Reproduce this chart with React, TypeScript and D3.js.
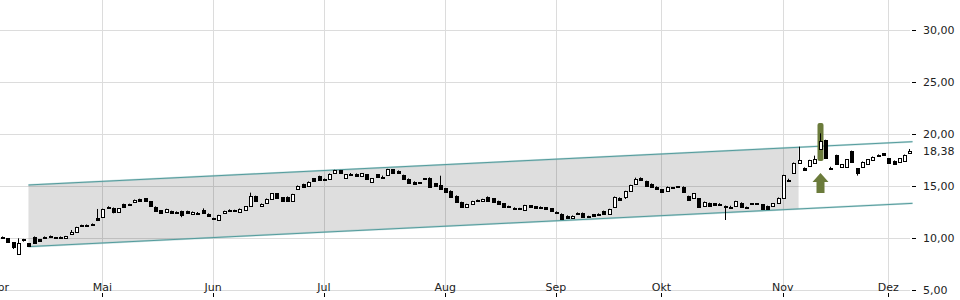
import React from 'react';
import * as d3 from 'd3';

// [open, high, low, close] per trading day
const ohlc: [number, number, number, number][] = [
  [10.05, 10.15, 9.98, 10.08], [9.97, 10.0, 9.55, 9.6], [9.58, 9.6, 8.94, 9.13], [8.43, 9.97, 8.4, 9.49],
  [9.88, 9.92, 9.65, 9.85], [9.49, 9.52, 9.2, 9.23], [10.13, 10.15, 9.47, 9.49], [9.87, 9.9, 9.65, 9.7],
  [10.13, 10.15, 9.97, 9.98], [10.07, 10.24, 10.05, 10.22], [10.07, 10.1, 9.95, 10.05], [10.12, 10.15, 9.98, 10.0],
  [9.98, 10.2, 9.96, 10.18], [10.36, 10.77, 10.34, 10.55], [10.55, 11.08, 10.53, 11.06], [11.26, 11.28, 11.1, 11.24],
  [11.28, 11.3, 11.1, 11.12], [11.38, 11.4, 11.2, 11.22], [11.95, 12.79, 11.63, 11.7], [12.05, 12.82, 12.0, 12.79],
  [13.01, 13.05, 12.85, 12.88], [12.91, 12.93, 12.37, 12.53], [12.47, 12.88, 12.45, 12.85], [13.24, 13.3, 12.93, 12.95],
  [13.28, 13.3, 13.1, 13.26], [13.43, 13.7, 13.41, 13.68], [13.75, 13.78, 13.5, 13.53], [13.81, 13.84, 13.5, 13.53],
  [13.53, 13.56, 13.08, 13.11], [13.01, 13.04, 12.6, 12.63], [12.66, 12.69, 12.35, 12.37], [12.47, 12.82, 12.45, 12.79],
  [12.6, 12.63, 12.35, 12.37], [12.53, 12.56, 12.35, 12.37], [12.6, 12.63, 12.0, 12.21], [12.6, 12.63, 12.38, 12.4],
  [12.31, 12.55, 12.29, 12.53], [12.42, 12.5, 12.35, 12.44], [12.72, 12.85, 12.38, 12.4], [12.34, 12.37, 12.1, 12.12],
  [11.88, 11.95, 11.82, 11.9], [11.7, 12.23, 11.68, 12.21], [12.36, 12.63, 12.34, 12.6], [12.68, 12.76, 12.62, 12.7],
  [12.69, 12.72, 12.53, 12.56], [12.5, 12.84, 12.48, 12.82], [12.69, 13.06, 12.67, 13.04], [13.04, 14.36, 13.02, 14.04],
  [14.04, 14.07, 13.5, 13.53], [13.04, 13.32, 13.02, 13.3], [13.37, 13.8, 13.35, 13.78], [13.78, 14.31, 13.76, 14.29],
  [14.29, 14.32, 13.86, 13.88], [13.91, 13.94, 13.57, 13.59], [13.97, 14.0, 13.57, 13.59], [13.59, 14.25, 13.57, 14.23],
  [14.68, 15.05, 14.66, 15.03], [15.19, 15.22, 14.85, 14.87], [14.97, 15.44, 14.95, 15.42], [15.74, 15.77, 15.49, 15.51],
  [15.96, 15.99, 15.53, 15.55], [15.63, 15.72, 15.55, 15.65], [15.64, 16.2, 15.62, 16.18], [16.22, 16.56, 16.2, 16.54],
  [16.51, 16.54, 16.26, 16.28], [15.8, 16.14, 15.78, 16.12], [16.11, 16.25, 15.98, 16.13], [16.18, 16.21, 15.91, 15.93],
  [15.99, 16.24, 15.97, 16.22], [16.12, 16.15, 15.68, 15.7], [15.42, 15.76, 15.4, 15.74], [16.12, 16.15, 15.81, 15.83],
  [15.89, 16.0, 15.75, 15.91], [16.06, 16.65, 16.04, 16.63], [16.6, 16.63, 16.26, 16.28], [16.47, 16.5, 16.2, 16.22],
  [16.06, 16.09, 15.65, 15.67], [15.7, 15.73, 15.24, 15.26], [15.42, 15.45, 15.17, 15.19], [15.36, 15.38, 15.34, 15.35],
  [15.75, 15.77, 15.6, 15.74], [15.8, 15.83, 14.91, 14.93], [15.26, 15.29, 14.98, 15.0], [15.1, 15.99, 14.69, 14.71],
  [14.78, 14.81, 14.38, 14.4], [14.55, 14.58, 13.95, 13.97], [14.07, 14.1, 13.41, 13.43], [13.46, 13.49, 12.93, 12.95],
  [13.01, 13.29, 12.99, 13.27], [13.27, 13.58, 13.25, 13.56], [13.67, 13.7, 13.52, 13.54], [13.53, 13.77, 13.51, 13.75],
  [13.97, 14.0, 13.57, 13.59], [13.81, 13.84, 13.47, 13.49], [13.56, 13.59, 13.25, 13.27], [13.33, 13.36, 12.99, 13.01],
  [13.09, 13.11, 12.98, 13.07], [12.93, 12.95, 12.83, 12.91], [12.88, 12.9, 12.77, 12.79], [12.69, 13.19, 12.67, 13.17],
  [13.14, 13.17, 12.99, 13.01], [13.05, 13.08, 12.9, 12.92], [13.02, 13.04, 12.92, 13.0], [12.95, 12.98, 12.77, 12.79],
  [12.85, 12.88, 12.58, 12.6], [12.53, 12.56, 12.35, 12.37], [12.34, 12.37, 11.78, 11.8], [12.15, 12.18, 11.87, 11.89],
  [11.89, 12.17, 11.87, 12.15], [12.43, 12.46, 12.26, 12.28], [12.37, 12.45, 12.0, 12.05], [12.12, 12.14, 12.1, 12.11],
  [12.28, 12.31, 12.06, 12.08], [12.35, 12.37, 12.25, 12.33], [12.6, 12.63, 12.32, 12.34], [12.28, 12.81, 12.26, 12.79],
  [12.95, 13.99, 12.93, 13.97], [13.88, 13.91, 13.6, 13.62], [13.97, 14.54, 13.75, 14.52], [14.49, 15.12, 14.47, 15.1],
  [15.16, 15.8, 15.14, 15.67], [15.8, 15.83, 15.53, 15.55], [15.48, 15.51, 14.98, 15.0], [15.22, 15.25, 14.92, 14.94],
  [14.94, 14.97, 14.66, 14.68], [14.68, 14.71, 14.37, 14.39], [14.52, 14.96, 14.5, 14.94], [14.88, 14.9, 14.75, 14.87],
  [14.96, 15.0, 14.85, 14.95], [14.94, 14.97, 14.44, 14.46], [14.04, 14.07, 13.63, 13.65], [13.81, 14.31, 13.79, 14.29],
  [13.81, 13.84, 12.93, 12.95], [13.08, 13.51, 13.06, 13.49], [13.37, 13.4, 13.09, 13.11], [13.33, 13.36, 13.12, 13.14],
  [13.26, 13.35, 13.2, 13.28], [13.08, 13.12, 11.73, 13.01], [13.0, 13.1, 12.92, 13.02], [13.08, 13.58, 13.06, 13.56],
  [13.4, 13.43, 12.93, 12.95], [12.94, 13.02, 12.88, 12.96], [13.33, 13.35, 13.31, 13.32], [13.33, 13.35, 13.31, 13.32],
  [13.24, 13.27, 12.74, 12.76], [13.08, 13.11, 12.74, 12.76], [13.08, 13.35, 13.06, 13.33], [13.4, 13.9, 13.38, 13.88],
  [13.81, 16.08, 13.79, 16.06], [15.57, 15.7, 15.45, 15.59], [16.22, 17.26, 16.2, 17.24], [17.18, 18.78, 17.16, 17.5],
  [16.76, 16.79, 16.52, 16.54], [16.95, 17.52, 16.93, 17.5], [17.24, 17.92, 17.22, 17.56], [18.53, 20.06, 18.5, 19.36],
  [19.42, 19.45, 17.64, 17.66], [16.7, 16.85, 16.58, 16.71], [17.98, 18.01, 17.06, 17.08], [16.79, 17.1, 16.77, 17.08],
  [16.86, 17.58, 16.84, 17.56], [18.37, 18.4, 17.32, 17.34], [16.7, 16.73, 16.0, 16.22], [16.86, 17.36, 16.84, 17.34],
  [17.08, 17.58, 17.06, 17.56], [17.5, 17.84, 17.48, 17.82], [18.02, 18.04, 17.9, 18.0], [18.14, 18.17, 17.96, 17.98],
  [17.66, 17.69, 17.22, 17.24], [17.43, 17.46, 17.06, 17.08], [17.28, 17.68, 17.26, 17.66], [17.43, 18.03, 17.41, 18.01],
  [18.14, 18.56, 18.12, 18.38],
];

const monthLabels = ['Apr', 'Mai', 'Jun', 'Jul', 'Aug', 'Sep', 'Okt', 'Nov', 'Dez'];
const monthIndex = [-0.5, 19, 40, 61, 84, 105, 125, 148, 168];
const yTicks = [5, 10, 15, 20, 25, 30];
const lastPrice = 18.38;

const channelIdx = [5, 172.6];
const channelUpper = [15.1, 19.26];
const channelLower = [9.17, 13.33];
const channelFillEnd = 151;

const signalIndex = 155;
const signalBar = [17.4, 21.05];
const signalArrow = [14.33, 16.25];

const W = 960;
const H = 300;

const locale = d3.formatLocale({ decimal: ',', thousands: '.', grouping: [3], currency: ['', '€'] });
const fmt = locale.format('.2f');

export default function App() {
  const x = d3.scaleLinear().domain([0, ohlc.length - 1]).range([2.08, 2.08 + (ohlc.length - 1) * 5.275]);
  const y = d3.scaleLinear().domain([5, 30]).range([290, 30]);
  const plotRight = 910;

  const interp = (vals: number[], i: number) =>
    vals[0] + ((vals[1] - vals[0]) * (i - channelIdx[0])) / (channelIdx[1] - channelIdx[0]);

  const fillPts: [number, number][] = [
    [x(channelIdx[0]), y(channelUpper[0])],
    [x(channelFillEnd), y(interp(channelUpper, channelFillEnd))],
    [x(channelFillEnd), y(interp(channelLower, channelFillEnd))],
    [x(channelIdx[0]), y(channelLower[0])],
  ];
  const line = d3.line<[number, number]>();

  const upperLine = line([
    [x(channelIdx[0]), y(channelUpper[0])],
    [x(channelIdx[1]), y(channelUpper[1])],
  ]);
  const lowerLine = line([
    [x(channelIdx[0]), y(channelLower[0])],
    [x(channelIdx[1]), y(channelLower[1])],
  ]);

  const sx = Math.round(x(signalIndex)) + 0.5;
  const aTop = y(signalArrow[1]);
  const aBot = y(signalArrow[0]);
  const arrowPath = `M${sx},${aTop} L${sx + 8},${aTop + 9} L${sx + 4},${aTop + 9} L${sx + 4},${aBot} L${sx - 4},${aBot} L${sx - 4},${aTop + 9} L${sx - 8},${aTop + 9} Z`;

  const font = 'DejaVu Sans, sans-serif';

  return (
    <svg width={W} height={H} style={{ position: 'absolute', left: 0, top: 0, background: '#fff' }}>
      {/* gridlines */}
      {yTicks.map((v) => (
        <line key={'h' + v} x1={0} x2={plotRight} y1={Math.round(y(v)) + 0.5} y2={Math.round(y(v)) + 0.5} stroke="#dcdcdc" />
      ))}
      {monthIndex.map((mi, k) => (
        <line key={'v' + k} x1={Math.round(x(mi)) + 0.5} x2={Math.round(x(mi)) + 0.5} y1={0} y2={290} stroke="#dcdcdc" />
      ))}

      {/* channel */}
      <polygon points={fillPts.map((p) => p.join(',')).join(' ')} fill="#000" fillOpacity={0.13} />
      <path d={upperLine || ''} stroke="#7fb7b8" strokeWidth={2} strokeOpacity={0.45} fill="none" />
      <path d={lowerLine || ''} stroke="#7fb7b8" strokeWidth={2} strokeOpacity={0.45} fill="none" />
      <path d={upperLine || ''} stroke="#4a9596" strokeWidth={0.9} fill="none" />
      <path d={lowerLine || ''} stroke="#4a9596" strokeWidth={0.9} fill="none" />

      {/* signal highlight */}
      <rect x={sx - 3} y={y(signalBar[1])} width={6} height={y(signalBar[0]) - y(signalBar[1])} rx={2} fill="#6b7b3b" />
      <path d={arrowPath} fill="#6b7b3b" />

      {/* candles */}
      {ohlc.map(([o, h, l, c], i) => {
        const r = Math.round(x(i));
        const px = r + 0.5;
        const top = Math.round(y(Math.max(o, c))) + 0.5;
        const bot = Math.round(y(Math.min(o, c))) + 0.5;
        const up = c >= o;
        return (
          <g key={i}>
            <line x1={px} x2={px} y1={y(h)} y2={y(l)} stroke="#000" strokeWidth={1} />
            <rect x={r - 0.5} y={top} width={3} height={Math.max(1, bot - top)} fill={up ? '#fff' : '#000'} stroke="#000" strokeWidth={1} />
          </g>
        );
      })}

      {/* y axis */}
      {yTicks.map((v) => (
        <g key={'t' + v}>
          <line x1={912} x2={916} y1={Math.round(y(v)) + 0.5} y2={Math.round(y(v)) + 0.5} stroke="#000" />
          <text x={923} y={y(v)} dy="0.35em" fontFamily={font} fontSize={11} fill="#222">
            {fmt(v)}
          </text>
        </g>
      ))}
      <text x={923} y={y(lastPrice)} dy="0.35em" fontFamily={font} fontSize={11} fill="#222">
        {fmt(lastPrice)}
      </text>

      {/* x axis */}
      {monthIndex.map((mi, k) => (
        <g key={'m' + k}>
          <line x1={Math.round(x(mi)) + 0.5} x2={Math.round(x(mi)) + 0.5} y1={293} y2={297} stroke="#000" />
          <text x={x(mi)} y={291} textAnchor="middle" fontFamily={font} fontSize={11} fill="#222">
            {monthLabels[k]}
          </text>
        </g>
      ))}
    </svg>
  );
}
